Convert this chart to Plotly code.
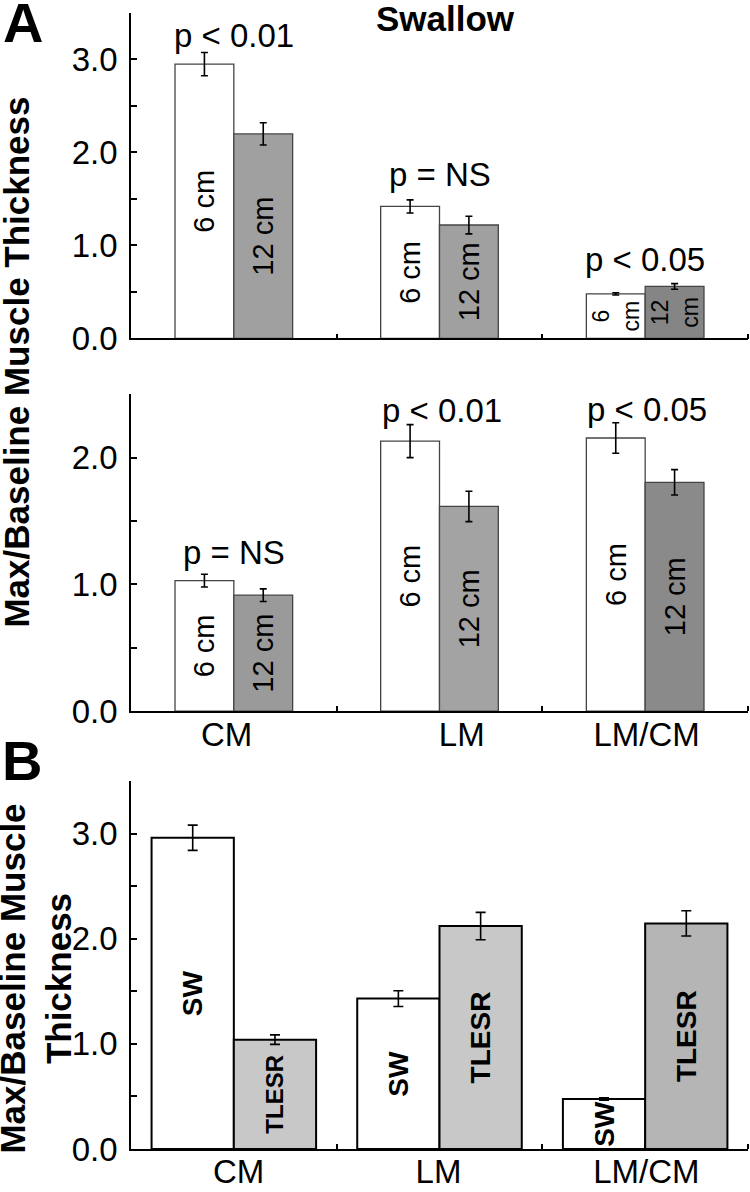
import plotly.graph_objects as go

# ---------------- data ----------------
categories = ["CM", "LM", "LM/CM"]
x_pos = [0, 1, 2]

swallow_6cm = [2.95, 1.42, 0.48]
swallow_6cm_err = [0.125, 0.07, 0.012]
swallow_12cm = [2.20, 1.22, 0.56]
swallow_12cm_err = [0.12, 0.095, 0.03]

tlesr_6cm = [1.03, 2.13, 2.155]
tlesr_6cm_err = [0.05, 0.13, 0.12]
tlesr_12cm = [0.915, 1.615, 1.805]
tlesr_12cm_err = [0.05, 0.12, 0.10]

b_sw = [2.96, 1.43, 0.475]
b_sw_err = [0.12, 0.075, 0.012]
b_tlesr = [1.04, 2.12, 2.145]
b_tlesr_err = [0.045, 0.13, 0.12]

p_swallow = ["p < 0.01", "p = NS", "p < 0.05"]
p_tlesr = ["p = NS", "p < 0.01", "p < 0.05"]

label_6_sw = ["6 cm", "6 cm", "6<br>cm"]
label_12_sw = ["12 cm", "12 cm", "12<br>cm"]
label_6_tl = ["6 cm", "6 cm", "6 cm"]
label_12_tl = ["12 cm", "12 cm", "12 cm"]
label_sw = ["SW", "SW", "SW"]
label_tl = ["TLESR", "TLESR", "TLESR"]

y_ticks = [0, 1, 2, 3]
y_ticktext = ["0.0", "1.0", "2.0", "3.0"]

# ---------------- styles ----------------
FONT = "Liberation Sans, Arial, sans-serif"
BLACK = "#000000"
col_6 = "#ffffff"
col_12_sw = ["#a0a0a0", "#a0a0a0", "#858585"]
col_12_tl = ["#9a9a9a", "#a3a3a3", "#8a8a8a"]
col_b_tl = ["#c8c8c8", "#c8c8c8", "#b5b5b5"]

fig = go.Figure()

A_W = 0.286
B_W = 0.40


def add_pair(xa, ya, v1, e1, t1, c1, v2, e2, t2, c2, w, line_col, line_w, tsize1, tsize2, bold, cap):
    for vals, errs, txt, col, off, ts in [(v1, e1, t1, c1, -w, tsize1), (v2, e2, t2, c2, 0, tsize2)]:
        fig.add_trace(go.Bar(
            x=x_pos, y=vals, width=w, offset=off,
            xaxis=xa, yaxis=ya,
            marker=dict(color=col, line=dict(color=line_col, width=line_w)),
            error_y=dict(type="data", array=errs, color=BLACK, thickness=1.6, width=cap),
            text=[("<b>%s</b>" % t) if bold else t for t in txt],
            textposition="inside", insidetextanchor="middle", textangle=-90,
            constraintext="none",
            textfont=dict(family=FONT, size=ts, color=BLACK),
            showlegend=False, hoverinfo="skip",
        ))


add_pair("x", "y", swallow_6cm, swallow_6cm_err, label_6_sw, col_6,
         swallow_12cm, swallow_12cm_err, label_12_sw, col_12_sw,
         A_W, "#444444", 1.3, [29, 29, 23], [29, 29, 23], False, 3.5)
add_pair("x2", "y2", tlesr_6cm, tlesr_6cm_err, label_6_tl, col_6,
         tlesr_12cm, tlesr_12cm_err, label_12_tl, col_12_tl,
         A_W, "#444444", 1.3, 29, 29, False, 3.5)
add_pair("x3", "y3", b_sw, b_sw_err, label_sw, col_6,
         b_tlesr, b_tlesr_err, label_tl, col_b_tl,
         B_W, BLACK, 2, 28, [24, 28, 28], True, 5)

minor_x = dict(tickmode="array", tickvals=[0.5, 1.5, 2.5], ticks="inside",
               ticklen=5, tickwidth=1.5, tickcolor=BLACK)


def xax(anchor, labels, positions):
    d = dict(range=[-0.5, 2.5], anchor=anchor, showline=True, linecolor=BLACK,
             linewidth=1.5, showgrid=False, zeroline=False, ticks="",
             minor=minor_x, fixedrange=True,
             tickfont=dict(family=FONT, size=33, color=BLACK))
    if labels is None:
        d.update(showticklabels=False, tickvals=[])
    else:
        d.update(tickmode="array", tickvals=positions, ticktext=labels, ticklabelstandoff=-7)
    return d


def yax(anchor, dom, top, minors):
    return dict(domain=dom, anchor=anchor, range=[0, top], showline=True,
                linecolor=BLACK, linewidth=1.5, showgrid=False, zeroline=False,
                tickmode="array", tickvals=[t for t in y_ticks if t <= top],
                ticktext=[y_ticktext[i] for i, t in enumerate(y_ticks) if t <= top],
                ticks="inside", ticklen=6, tickwidth=1.5, tickcolor=BLACK,
                ticklabelstandoff=5,
                minor=dict(tickmode="array", tickvals=minors, ticks="inside",
                           ticklen=6, tickwidth=1.5, tickcolor=BLACK),
                tickfont=dict(family=FONT, size=33, color=BLACK), fixedrange=True)


fig.update_layout(
    width=750, height=1192,
    margin=dict(l=131, r=2, t=13, b=40),
    paper_bgcolor="white", plot_bgcolor="white",
    barmode="overlay",
    xaxis=xax("y", None, None),
    xaxis2=xax("y2", categories, [-0.035, 1.108, 2.007]),
    xaxis3=xax("y3", categories, [0.023, 0.995, 2.006]),
    yaxis=yax("x", [0.7135, 1.0], 3.5, [0.5, 1.5, 2.5, 3.5]),
    yaxis2=yax("x2", [0.3854, 0.6644], 2.5, [0.5, 1.5, 2.5]),
    yaxis3=yax("x3", [0.0, 0.324], 3.5, [0.5, 1.5, 2.5, 3.5]),
)

ann = []
# p-value labels
for xv, txt, yv in zip([0.0, 1.0, 2.0], p_swallow, [3.253, 1.761, 0.848]):
    ann.append(dict(x=xv, y=yv, xref="x", yref="y", text=txt, showarrow=False,
                    xanchor="center", yanchor="middle",
                    font=dict(family=FONT, size=33, color=BLACK)))
for xv, txt, yv in zip([0.0, 1.01, 2.01], p_tlesr, [1.253, 2.37, 2.382]):
    ann.append(dict(x=xv, y=yv, xref="x2", yref="y2", text=txt, showarrow=False,
                    xanchor="center", yanchor="middle",
                    font=dict(family=FONT, size=33, color=BLACK)))
# panel titles
ann.append(dict(x=1.03, y=3.44, xref="x", yref="y", text="<b>Swallow</b>", showarrow=False,
                xanchor="center", yanchor="middle", font=dict(family=FONT, size=35, color=BLACK)))
ann.append(dict(x=1.0, y=2.61, xref="x2", yref="y2", text="<b>TLESR</b>", showarrow=False,
                xanchor="center", yanchor="middle", font=dict(family=FONT, size=35, color=BLACK)))
# y-axis titles
ann.append(dict(x=-0.186, y=0.6925, xref="paper", yref="paper",
                text="<b>Max/Baseline Muscle Thickness</b>", textangle=-90, showarrow=False,
                xanchor="center", yanchor="middle", font=dict(family=FONT, size=35, color=BLACK)))
ann.append(dict(x=-0.154, y=0.15, xref="paper", yref="paper",
                text="<b>Max/Baseline Muscle<br>Thickness</b>", textangle=-90, showarrow=False,
                xanchor="center", yanchor="middle", font=dict(family=FONT, size=35, color=BLACK)))
# panel letters
ann.append(dict(x=-0.175, y=0.992, xref="paper", yref="paper", text="<b>A</b>", showarrow=False,
                xanchor="center", yanchor="middle", font=dict(family=FONT, size=56, color=BLACK)))
ann.append(dict(x=-0.176, y=0.342, xref="paper", yref="paper", text="<b>B</b>", showarrow=False,
                xanchor="center", yanchor="middle", font=dict(family=FONT, size=56, color=BLACK)))

fig.update_layout(annotations=ann)
fig.write_html(
    "out.html",
    config={"displayModeBar": False},
    post_script="document.body.style.margin='0px';document.body.style.padding='0px';"
                "document.documentElement.style.overflow='hidden';",
)
